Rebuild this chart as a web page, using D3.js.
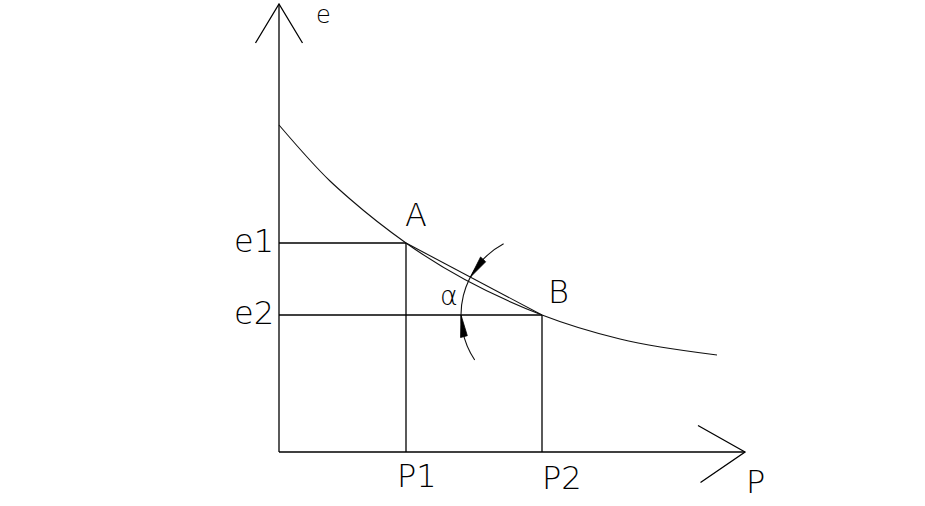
<!DOCTYPE html>
<html>
<head>
<meta charset="utf-8">
<script src="https://cdn.jsdelivr.net/npm/d3@7"></script>
<style>
  html, body { margin: 0; padding: 0; background: #fff; }
  svg { display: block; }
  text { font-family: "DejaVu Sans", "Liberation Sans", sans-serif; font-weight: 200; fill: #000; }
</style>
</head>
<body>
<svg id="chart" width="925" height="506"></svg>
<script>
// ---- data ----
const pPoints = [127, 263];          // P1, P2 (P units)
const ePoints = [209, 137];          // e1, e2 (e units)
const pLabels = ["P1", "P2"];
const eLabels = ["e1", "e2"];
const pointLabels = ["A", "B"];
const curveP = [0, 51, 71, 127, 263, 341, 438];
const curveE = [327, 271, 253, 209, 137, 113, 97];
const axisLabels = ["P", "e"];
const angleLabel = "α";

// ---- scales ----
const svg = d3.select("#chart");
const x = d3.scaleLinear().domain([0, 466]).range([279, 745]);
const y = d3.scaleLinear().domain([0, 448]).range([452, 4]);

const stroke = "#000";
const sw = 1.3;
const g = svg.append("g");

// axes (lines with open arrowheads)
const x0 = x(0), y0 = y(0), xEnd = x.range()[1], yEnd = y.range()[1];
g.append("line").attr("x1", x0).attr("y1", y0).attr("x2", xEnd).attr("y2", y0)
  .attr("stroke", stroke).attr("stroke-width", sw);
g.append("line").attr("x1", x0).attr("y1", y0).attr("x2", x0).attr("y2", yEnd)
  .attr("stroke", stroke).attr("stroke-width", sw);
// arrowheads
g.append("path").attr("d", `M${xEnd - 47},${y0 - 26.5} L${xEnd},${y0} L${xEnd - 44.5},${y0 + 30.5}`)
  .attr("fill", "none").attr("stroke", stroke).attr("stroke-width", sw);
g.append("path").attr("d", `M${x0 - 23.5},${yEnd + 39} L${x0},${yEnd} L${x0 + 23.5},${yEnd + 39}`)
  .attr("fill", "none").attr("stroke", stroke).attr("stroke-width", sw);

// guide lines for A and B
pPoints.forEach((p, i) => {
  g.append("line").attr("x1", x(p)).attr("y1", y0).attr("x2", x(p)).attr("y2", y(ePoints[i]))
    .attr("stroke", stroke).attr("stroke-width", sw);
  g.append("line").attr("x1", x0).attr("y1", y(ePoints[i])).attr("x2", x(p)).attr("y2", y(ePoints[i]))
    .attr("stroke", stroke).attr("stroke-width", sw);
});

// e-P curve
const curveData = curveP.map((p, i) => [p, curveE[i]]);
g.append("path")
  .datum(curveData)
  .attr("d", d3.line().x(d => x(d[0])).y(d => y(d[1])).curve(d3.curveMonotoneX))
  .attr("fill", "none").attr("stroke", "#111").attr("stroke-width", 1.1);

// chord A-B
const A = [x(pPoints[0]), y(ePoints[0])];
const B = [x(pPoints[1]), y(ePoints[1])];
g.append("line").attr("x1", A[0]).attr("y1", A[1]).attr("x2", B[0]).attr("y2", B[1])
  .attr("stroke", "#111").attr("stroke-width", 1.1);

// angle arc centered at B
const r = 81;
const thChord = Math.atan2(A[1] - B[1], A[0] - B[0]);   // direction B->A
const thHoriz = -Math.PI;                                // direction B->left
const thStart = thChord + 0.59;
const thEnd = thHoriz - 0.59;
const arcPath = d3.path();
arcPath.arc(B[0], B[1], r, thStart, thEnd, true);
g.append("path").attr("d", arcPath.toString())
  .attr("fill", "none").attr("stroke", "#111").attr("stroke-width", 1.1);

// filled arrowheads on the arc
function arrowHead(thTip, dir) {
  const len = 0.27;
  const thBase = thTip + dir * len;
  const tip = [B[0] + r * Math.cos(thTip), B[1] + r * Math.sin(thTip)];
  const bc = [B[0] + r * Math.cos(thBase), B[1] + r * Math.sin(thBase)];
  const nx = Math.cos(thBase), ny = Math.sin(thBase);
  const hw = 3.5;
  const p1 = [bc[0] + nx * hw, bc[1] + ny * hw];
  const p2 = [bc[0] - nx * hw, bc[1] - ny * hw];
  g.append("path")
    .attr("d", `M${tip[0]},${tip[1]} L${p1[0]},${p1[1]} L${p2[0]},${p2[1]} Z`)
    .attr("fill", "#000").attr("stroke", "#000").attr("stroke-width", 0.8);
}
arrowHead(thChord, +1);
arrowHead(thHoriz, -1);

// ---- text ----
const fs = 32;
function label(txt, px, py, anchor, size) {
  g.append("text").attr("x", px).attr("y", py).attr("text-anchor", anchor || "start")
    .attr("font-size", size || fs).text(txt);
}
// P tick labels
label(pLabels[0], x(pPoints[0]) - 9, y0 + 35, "start");
label(pLabels[1], x(pPoints[1]) + 0, y0 + 37, "start");
// e tick labels
label(eLabels[0], x0 - 5, y(ePoints[0]) + 9, "end");
label(eLabels[1], x0 - 5, y(ePoints[1]) + 9, "end");
// point labels
label(pointLabels[0], A[0] - 1, A[1] - 17, "start");
label(pointLabels[1], B[0] + 6, B[1] - 12, "start");
// axis labels
label(axisLabels[0], xEnd + 1, y0 + 41, "start");
label(axisLabels[1], x0 + 37, yEnd + 19, "start", 24);
// angle label
label(angleLabel, B[0] - 102, B[1] - 10, "start", 27);
</script>
</body>
</html>
